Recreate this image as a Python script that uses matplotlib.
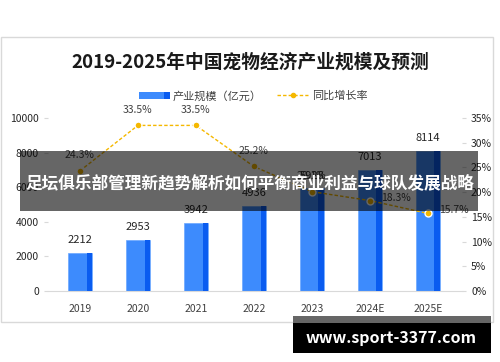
import matplotlib.pyplot as plt
from matplotlib.patches import Rectangle
from matplotlib.lines import Line2D

plt.rcParams['font.family'] = ['Noto Sans CJK SC', 'DejaVu Sans']

years = ['2019', '2020', '2021', '2022', '2023', '2024E', '2025E']
scale = [2212, 2953, 3942, 4936, 5928, 7013, 8114]
growth = [24.3, 33.5, 33.5, 25.2, 20.1, 18.3, 15.7]

W, H = 500, 362
fig = plt.figure(figsize=(W / 100, H / 100), dpi=100)


def fx(px):
    return px / W


def fy(py):
    return 1 - py / H


# chart frame
fig.patches.append(Rectangle((fx(1), fy(322)), fx(492), 285 / H, transform=fig.transFigure,
                             fill=False, edgecolor='#d9d9d9', lw=1))

fig.text(0.5, fy(62), '2019-2025年中国宠物经济产业规模及预测', ha='center', va='center',
         fontsize=13.5, fontweight='bold', color='#1a1a1a')

# legend (drawn by hand)
fig.patches.append(Rectangle((fx(139), fy(99)), fx(31), 7 / H, transform=fig.transFigure,
                             facecolor='#3d8bfd', edgecolor='none'))
fig.patches.append(Rectangle((fx(164), fy(99)), fx(6), 7 / H, transform=fig.transFigure,
                             facecolor='#0a5cf0', edgecolor='none'))
fig.text(fx(173), fy(96), '产业规模（亿元）', ha='left', va='center', fontsize=8, color='#404040')
fig.lines.append(Line2D([fx(277), fx(308)], [fy(95), fy(95)], transform=fig.transFigure,
                        color='#f5b800', lw=1, ls=(0, (2.5, 1.5))))
fig.lines.append(Line2D([fx(292.5)], [fy(95)], transform=fig.transFigure, marker='o',
                        markersize=3, color='#f5b800'))
fig.text(fx(312), fy(96), '同比增长率', ha='left', va='center', fontsize=8, color='#404040')

ax = fig.add_axes([fx(48), fy(291), fx(414), 173 / H])
x = list(range(len(years)))
bw = 0.41
ax.bar(x, scale, width=bw, color='#3d8bfd', edgecolor='#6aa6ff', lw=0.5, zorder=2)
ax.bar([i + bw / 2 - 0.045 for i in x], scale, width=0.09, color='#0a5cf0', zorder=3)
for i, v in enumerate(scale):
    ax.text(i, v + 450, str(v), ha='center', va='bottom', fontsize=8, color='#262626')

ax.set_xlim(-0.55, 6.59)
ax.set_ylim(0, 10000)
ax.set_yticks(range(0, 10001, 2000))
ax.set_xticks(x)
ax.set_xticklabels(years)
for s in ['top', 'right', 'left']:
    ax.spines[s].set_visible(False)
ax.spines['bottom'].set_color('#d9d9d9')
ax.tick_params(axis='x', length=0, pad=9, labelsize=7.5, labelcolor='#404040')
ax.tick_params(axis='y', length=3, color='#d9d9d9', labelsize=7.5, labelcolor='#262626')

ax2 = ax.twinx()
ax2.plot(x, growth, color='#f5b800', lw=1, ls=(0, (2.5, 1.5)), marker='o', markersize=5,
         markerfacecolor='#f5b800', markeredgecolor='white', markeredgewidth=1, zorder=4)
ax2.set_ylim(0, 35)
ax2.set_yticks(range(0, 36, 5))
ax2.set_yticklabels([f'{t}%' for t in range(0, 36, 5)])
for s in ['top', 'right', 'left', 'bottom']:
    ax2.spines[s].set_visible(False)
ax2.tick_params(axis='y', length=3, color='#d9d9d9', labelsize=7.5, labelcolor='#262626')
for i, g in enumerate(growth):
    if i < 5:
        ax2.text(i, g + 2.2, f'{g}%', ha='center', va='bottom', fontsize=7.5, color='#404040')
    else:
        ax2.text(i + 0.2, g + 0.6, f'{g}%', ha='left', va='center', fontsize=7.5, color='#404040')

# overlay banner
fig.patches.append(Rectangle((fx(20), fy(211)), fx(458), 60 / H, transform=fig.transFigure,
                             facecolor='black', alpha=0.6, edgecolor='none', zorder=10))
fig.text(0.5, fy(183), '足坛俱乐部管理新趋势解析如何平衡商业利益与球队发展战略', ha='center',
         va='center', fontsize=12, fontweight='bold', color='white', zorder=11)

# watermark
fig.patches.append(Rectangle((fx(293), fy(323)), fx(198), 7 / H, transform=fig.transFigure,
                             facecolor='#666666', edgecolor='none', zorder=10))
fig.patches.append(Rectangle((fx(293), fy(353)), fx(198), 30 / H, transform=fig.transFigure,
                             facecolor='black', edgecolor='none', zorder=10))
fig.text(fx(391), fy(338), 'www.sport-3377.com', ha='center', va='center', fontsize=11.5,
         fontweight='bold', color='white', zorder=11)

fig.savefig('out.png', dpi=100)
